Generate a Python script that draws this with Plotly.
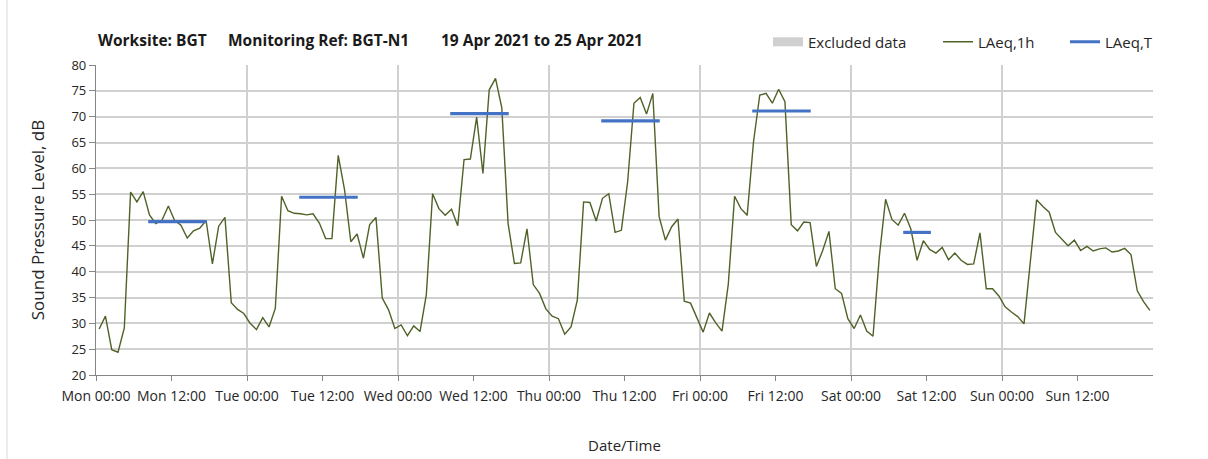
import datetime as dt
import plotly.graph_objects as go

# ---------------- data ----------------
start_date = "2021-04-19"          # Monday
# hourly LAeq,1h values (dB), one per hour starting Mon 00:00
laeq_1h = [
    28.9, 31.4, 24.9, 24.4, 29.1, 55.4, 53.5, 55.5, 51.0, 49.3, 50.0, 52.7,
    49.9, 49.0, 46.5, 47.9, 48.4, 49.9, 41.5, 48.8, 50.5, 34.0, 32.7, 31.9,
    30.0, 28.8, 31.1, 29.3, 32.9, 54.6, 51.8, 51.3, 51.2, 51.0, 51.2, 49.4,
    46.4, 46.4, 62.5, 55.9, 45.8, 47.3, 42.6, 49.1, 50.5, 34.9, 32.6, 29.0,
    29.7, 27.6, 29.5, 28.4, 35.5, 55.1, 52.2, 50.9, 52.1, 48.9, 61.7, 61.8,
    69.9, 59.0, 75.2, 77.4, 71.7, 49.3, 41.6, 41.7, 48.3, 37.5, 35.8, 32.8,
    31.4, 30.9, 27.9, 29.3, 34.5, 53.5, 53.4, 49.8, 54.2, 55.1, 47.6, 48.0,
    57.4, 72.6, 73.7, 70.5, 74.5, 50.7, 46.1, 48.7, 50.2, 34.3, 33.9, 31.2,
    28.3, 32.0, 30.1, 28.5, 37.6, 54.6, 52.2, 50.9, 65.1, 74.2, 74.5, 72.6,
    75.3, 72.9, 49.1, 47.9, 49.6, 49.5, 41.0, 44.1, 47.8, 36.7, 35.8, 30.9,
    29.0, 31.6, 28.5, 27.5, 42.9, 54.0, 50.1, 49.0, 51.3, 48.3, 42.2, 46.0,
    44.3, 43.6, 44.7, 42.3, 43.6, 42.2, 41.4, 41.5, 47.5, 36.7, 36.7, 35.3,
    33.2, 32.2, 31.3, 29.9, 42.0, 53.9, 52.6, 51.5, 47.6, 46.4, 45.0, 46.1,
    44.1, 44.9, 44.0, 44.4, 44.6, 43.8, 44.0, 44.5, 43.3, 36.3, 34.2, 32.5,
]

# LAeq,T (daytime period averages): day index, start hour, end hour, value
laeq_t_day = [0, 1, 2, 3, 4, 5]
laeq_t_start_h = [8.3, 8.3, 8.3, 8.3, 8.3, 8.3]
laeq_t_end_h = [17.6, 17.6, 17.6, 17.6, 17.6, 12.7]
laeq_t_value = [49.7, 54.4, 70.6, 69.2, 71.1, 47.6]

tick_hours = list(range(0, 168, 12))
y_ticks = list(range(20, 81, 5))

# ---------------- build ----------------
t0 = dt.datetime.fromisoformat(start_date)
x_1h = [t0 + dt.timedelta(hours=h + 0.5) for h in range(len(laeq_1h))]

xt, yt = [], []
for d, s, e, v in zip(laeq_t_day, laeq_t_start_h, laeq_t_end_h, laeq_t_value):
    xt += [t0 + dt.timedelta(days=d, hours=s), t0 + dt.timedelta(days=d, hours=e), None]
    yt += [v, v, None]

tickvals = [t0 + dt.timedelta(hours=h) for h in tick_hours]
ticktext = [t.strftime("%a %H:%M") for t in tickvals]
day_grid = [t0 + dt.timedelta(days=d) for d in range(1, 8)]

FONT = "Open Sans"
fig = go.Figure()

# legend-only entry (no excluded periods in this week)
fig.add_trace(go.Scatter(
    x=[None], y=[None], name="Excluded data", mode="lines",
    line=dict(color="#d0d0d0", width=9), legend="legend", showlegend=True,
))
fig.add_trace(go.Scatter(
    x=x_1h, y=laeq_1h, name="LAeq,1h", mode="lines",
    line=dict(color="#4F6228", width=1.4), legend="legend2",
))
fig.add_trace(go.Scatter(
    x=xt, y=yt, name="LAeq,T", mode="lines", connectgaps=False,
    line=dict(color="#4472C4", width=3.2), legend="legend3",
))

W, H = 1208, 459
L, R, T, B = 96, 55, 65, 84
pw = W - L - R
ph = H - T - B


def px_x(px):
    return (px - L) / pw


def px_y(py):
    return (H - B - py) / ph


leg_common = dict(orientation="h", yanchor="middle", xanchor="left",
                  font=dict(family=FONT, size=15, color="#262626"),
                  bgcolor="rgba(0,0,0,0)", borderwidth=0)

fig.update_layout(
    width=W, height=H,
    margin=dict(l=L, r=R, t=T, b=B, autoexpand=False),
    paper_bgcolor="white", plot_bgcolor="white",
    font=dict(family=FONT, color="#262626"),
    showlegend=True,
    legend=dict(x=px_x(768), y=px_y(42), visible=True, **leg_common),
    legend2=dict(x=px_x(938), y=px_y(42), **leg_common),
    legend3=dict(x=px_x(1065), y=px_y(42), **leg_common),
    xaxis=dict(
        type="date",
        range=[t0, t0 + dt.timedelta(days=7)],
        tickmode="array", tickvals=tickvals, ticktext=ticktext,
        ticks="outside", ticklen=5, tickcolor="#868686", tickwidth=1,
        ticklabelstandoff=3,
        showgrid=False, showline=True, linecolor="#868686", linewidth=1.3,
        tickfont=dict(family=FONT, size=14, color="#262626"),
        minor=dict(tickmode="array", tickvals=day_grid, showgrid=True,
                   gridcolor="#d0d0d0", gridwidth=1.6, ticks=""),
        title=dict(text="Date/Time", standoff=36,
                   font=dict(family=FONT, size=15, color="#262626")),
        zeroline=False,
    ),
    yaxis=dict(
        range=[20, 80], tickmode="array", tickvals=y_ticks,
        ticks="outside", ticklen=6, tickcolor="#868686",
        showgrid=True, gridcolor="#d0d0d0", gridwidth=1.6,
        showline=True, linecolor="#868686", linewidth=1.3,
        tickfont=dict(family=FONT, size=13, color="#262626"),
        title=dict(text="Sound Pressure Level, dB", standoff=22,
                   font=dict(family=FONT, size=17, color="#262626")),
        zeroline=False,
    ),
)

titles = [("Worksite: BGT", 96), ("Monitoring Ref: BGT-N1", 226),
          ("19 Apr 2021 to 25 Apr 2021", 439)]
for txt, xp in titles:
    fig.add_annotation(text=f"<b>{txt}</b>", xref="paper", yref="paper",
                       x=px_x(xp), y=px_y(40), xanchor="left", yanchor="middle",
                       showarrow=False,
                       font=dict(family=FONT, size=15.5, color="#1a1a1a"))

# outer chart-area border (left edge visible)
fig.add_shape(type="line", xref="paper", yref="paper",
              x0=px_x(7), x1=px_x(7), y0=px_y(0), y1=px_y(459),
              line=dict(color="#d9d9d9", width=1))

fig.write_html("out.html", config={"displayModeBar": False},
               post_script="document.body.style.margin='0';")
